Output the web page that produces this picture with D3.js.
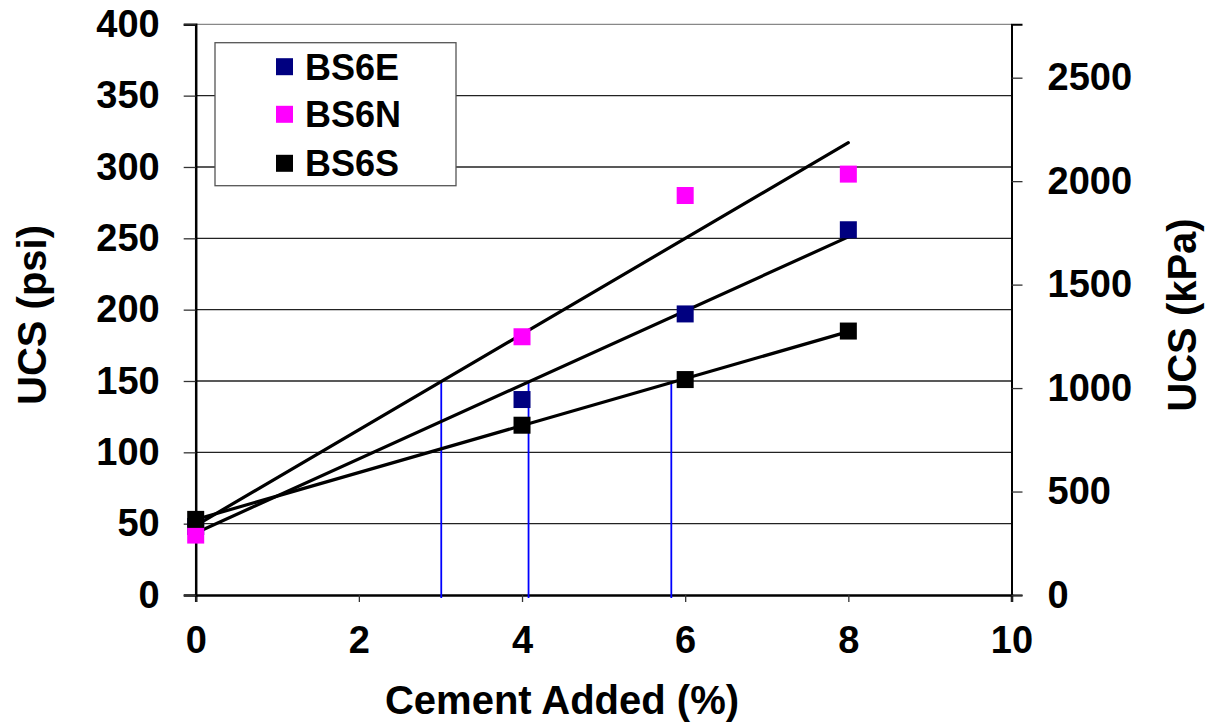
<!DOCTYPE html>
<html><head><meta charset="utf-8">
<script src="https://cdnjs.cloudflare.com/ajax/libs/d3/7.8.5/d3.min.js"></script>
<style>
html,body{margin:0;padding:0;background:#fff;}
svg text{font-family:"Liberation Sans",Arial,sans-serif;font-weight:bold;fill:#000;}
</style></head>
<body>
<svg id="chart" width="1207" height="723"></svg>
<script>
// ---- data ----
const cementAdded = [0, 4, 6, 8];
const seriesNames = ["BS6E", "BS6N", "BS6S"];
const seriesColors = ["#000080", "#ff00ff", "#000000"];
const bs6E = [48, 137, 197, 256];
const bs6N = [42, 181, 280, 295];
const bs6S = [53, 119, 151, 185];
// trend lines (start at x=0, end at x=8), psi
const trendX = [0, 8];
const trendE = [43.5, 251];
const trendN = [48.7, 317];
const trendS = [52.9, 184.6];
// blue guide lines at 150 psi
const guideX = [3.01, 4.08, 5.83];
const guideLevel = 150;
const xTicks = [0, 2, 4, 6, 8, 10];
const yTicksPsi = [0, 50, 100, 150, 200, 250, 300, 350, 400];
const yTicksKpa = [0, 500, 1000, 1500, 2000, 2500];
const psiToKpa = 6.895;

const svg = d3.select("#chart");
const x = d3.scaleLinear().domain([0, 10]).range([195.7, 1011.5]);
const y = d3.scaleLinear().domain([0, 400]).range([595, 24.3]);
const yk = d3.scaleLinear().domain([0, 400 * psiToKpa]).range([595, 24.3]);

// gridlines
svg.append("g").selectAll("line").data(yTicksPsi.filter(d => d > 0)).join("line")
  .attr("x1", x(0)).attr("x2", x(10))
  .attr("y1", d => y(d)).attr("y2", d => y(d))
  .attr("stroke", d => d === 400 ? "#888" : "#222").attr("stroke-width", 1.3);

// axes
const gx = svg.append("g").attr("transform", `translate(0,${y(0)})`)
  .call(d3.axisBottom(x).tickValues(xTicks).tickSize(7).tickPadding(38).tickFormat(d3.format("d")));
const gy = svg.append("g").attr("transform", `translate(${x(0)},0)`)
  .call(d3.axisLeft(y).tickValues(yTicksPsi).tickSize(12).tickPadding(24).tickFormat(d3.format("d")));
const gr = svg.append("g").attr("transform", `translate(${x(10)},0)`)
  .call(d3.axisRight(yk).tickValues(yTicksKpa).tickSize(11).tickPadding(25).tickFormat(d3.format("d")));
[gx, gy, gr].forEach(g => {
  g.select(".domain").attr("stroke", "#000").attr("stroke-width", 2.5);
  g.selectAll(".tick line").attr("stroke", "#333").attr("stroke-width", 1.3);
  g.selectAll(".tick text").attr("font-size", 38).attr("font-family", "Liberation Sans, Arial, sans-serif").attr("font-weight", "bold");
});
gx.selectAll(".tick text").attr("dy", "0.35em");
gr.select(".domain").attr("stroke-width", 2);

// blue guide lines
svg.append("g").selectAll("line").data(guideX).join("line")
  .attr("x1", d => x(d)).attr("x2", d => x(d))
  .attr("y1", y(guideLevel)).attr("y2", y(0) + 3)
  .attr("stroke", "#0000ff").attr("stroke-width", 1.8);

// trend lines
const trends = [trendE, trendN, trendS];
svg.append("g").selectAll("line").data(trends).join("line")
  .attr("x1", x(trendX[0])).attr("x2", x(trendX[1]))
  .attr("y1", d => y(d[0])).attr("y2", d => y(d[1]))
  .attr("stroke", "#000").attr("stroke-width", 3.2).attr("stroke-linecap", "round");

// markers
const series = [bs6E, bs6N, bs6S];
const ms = 17;
series.forEach((vals, i) => {
  svg.append("g").selectAll("rect").data(vals).join("rect")
    .attr("x", (d, j) => x(cementAdded[j]) - ms / 2)
    .attr("y", d => y(d) - ms / 2)
    .attr("width", ms).attr("height", ms)
    .attr("fill", seriesColors[i]);
});

// legend
const lg = svg.append("g");
lg.append("rect").attr("x", 215).attr("y", 42.7).attr("width", 241).attr("height", 143)
  .attr("fill", "#fff").attr("stroke", "#555").attr("stroke-width", 1.3);
const legY = [66.7, 114.3, 163.3];
seriesNames.forEach((n, i) => {
  lg.append("rect").attr("x", 276).attr("y", legY[i] - 8.5).attr("width", 17).attr("height", 17)
    .attr("fill", seriesColors[i]);
  lg.append("text").attr("x", 305).attr("y", legY[i]).attr("dy", "0.36em")
    .attr("font-size", 36).text(n);
});

// axis titles
svg.append("text").attr("x", 562).attr("y", 714).attr("text-anchor", "middle")
  .attr("font-size", 40).text("Cement Added (%)");
svg.append("text").attr("transform", "translate(46,315) rotate(-90)").attr("text-anchor", "middle")
  .attr("font-size", 40).text("UCS (psi)");
svg.append("text").attr("transform", "translate(1196,315) rotate(-90)").attr("text-anchor", "middle")
  .attr("font-size", 40).text("UCS (kPa)");
</script>
</body></html>
